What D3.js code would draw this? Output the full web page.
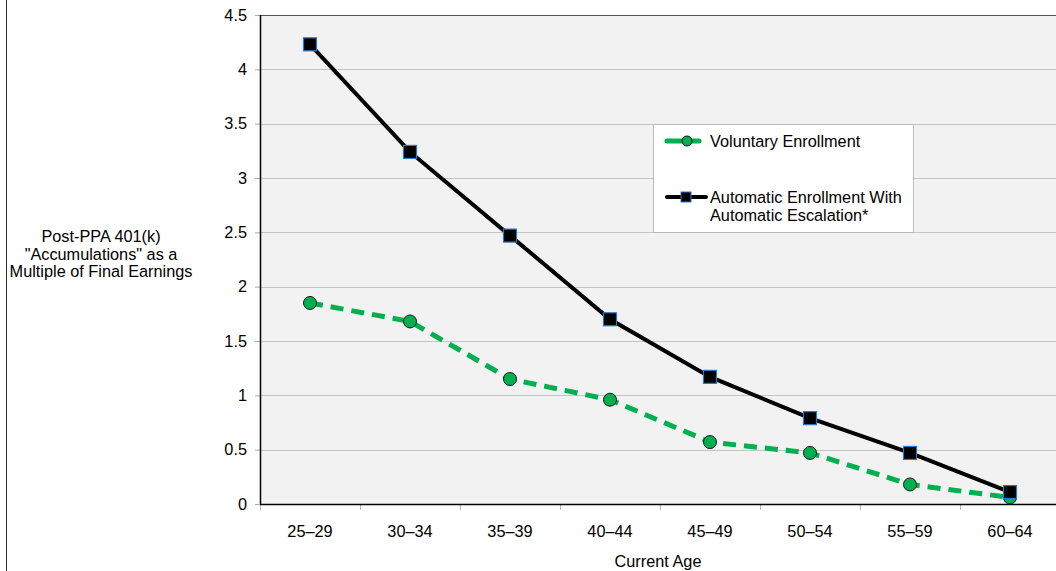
<!DOCTYPE html>
<html>
<head>
<meta charset="utf-8">
<script src="https://cdn.jsdelivr.net/npm/d3@7"></script>
<style>
  body { margin: 0; background: #fff; }
  svg text { font-family: "Liberation Sans", Arial, Helvetica, sans-serif; fill: #000; }
</style>
</head>
<body>
<svg id="chart" width="1056" height="571"></svg>
<script>
var ages = ["25–29", "30–34", "35–39", "40–44", "45–49", "50–54", "55–59", "60–64"];
var voluntary = [1.85, 1.68, 1.15, 0.96, 0.57, 0.47, 0.18, 0.06];
var automatic = [4.23, 3.24, 2.47, 1.70, 1.17, 0.79, 0.47, 0.11];
var yTicks = [0, 0.5, 1, 1.5, 2, 2.5, 3, 3.5, 4, 4.5];
var seriesNames = ["Voluntary Enrollment", "Automatic Enrollment With|Automatic Escalation*"];

var svg = d3.select("#chart");
var plotLeft = 260, plotRight = 1060, plotTop = 15, plotBottom = 504;
var fs = "16.3px";

var x = d3.scaleBand().domain(ages).range([plotLeft, plotRight]);
var y = d3.scaleLinear().domain([0, 4.5]).range([plotBottom, plotTop]);

// stray frame line at far left
svg.append("line")
	.attr("x1", 6.5).attr("x2", 6.5).attr("y1", 0).attr("y2", 571)
	.attr("stroke", "#333").attr("stroke-width", 1);

// plot background
svg.append("rect")
	.attr("x", plotLeft).attr("y", plotTop)
	.attr("width", plotRight - plotLeft).attr("height", plotBottom - plotTop)
	.attr("fill", "#f2f2f2");

// grid
svg.append("g").selectAll("line")
	.data(yTicks.filter(function(d){ return d > 0; }))
	.enter().append("line")
	.attr("x1", plotLeft).attr("x2", plotRight)
	.attr("y1", function(d){ return Math.round(y(d)) + 0.5; })
	.attr("y2", function(d){ return Math.round(y(d)) + 0.5; })
	.attr("stroke", function(d){ return d === 4.5 ? "#555" : "#c4c4c4"; })
	.attr("stroke-width", 1);

// y axis
var yAxis = d3.axisLeft(y).tickValues(yTicks).tickSize(5).tickPadding(8)
	.tickFormat(function(d){ return d; });
var gy = svg.append("g").attr("transform", "translate(" + plotLeft + ",0)").call(yAxis);
gy.select(".domain").remove();
gy.selectAll(".tick line").attr("stroke", "#aaa");
gy.selectAll(".tick text").style("font-size", fs);
svg.append("line")
	.attr("x1", plotLeft + 0.5).attr("x2", plotLeft + 0.5).attr("y1", plotTop).attr("y2", plotBottom)
	.attr("stroke", "#000").attr("stroke-width", 1.5);

// x axis
var xAxis = d3.axisBottom(x).tickSize(0).tickPadding(21);
var gx = svg.append("g").attr("transform", "translate(0," + plotBottom + ")").call(xAxis);
gx.select(".domain").remove();
gx.selectAll(".tick text").style("font-size", fs);
svg.append("g").selectAll("line")
	.data(ages)
	.enter().append("line")
	.attr("x1", function(d){ return x(d) + 0.5; })
	.attr("x2", function(d){ return x(d) + 0.5; })
	.attr("y1", plotBottom).attr("y2", plotBottom + 6)
	.attr("stroke", "#bbb");
svg.append("line")
	.attr("x1", plotLeft).attr("x2", plotRight).attr("y1", plotBottom + 0.5).attr("y2", plotBottom + 0.5)
	.attr("stroke", "#000").attr("stroke-width", 1.5);

// axis titles
svg.append("text")
	.attr("x", 658).attr("y", 567)
	.attr("text-anchor", "middle")
	.style("font-size", fs)
	.text("Current Age");

var yTitle = svg.append("text")
	.attr("text-anchor", "middle")
	.style("font-size", fs);
["Post-PPA 401(k)", "\"Accumulations\" as a", "Multiple of Final Earnings"].forEach(function(t, i){
	yTitle.append("tspan").attr("x", 101).attr("y", 242 + i * 17.5).text(t);
});

var cx = function(d, i){ return x(ages[i]) + x.bandwidth() / 2; };
var lineGen = d3.line().x(function(d, i){ return cx(d, i); }).y(function(d){ return y(d); });

var green = "#00b050";

// voluntary line
svg.append("path")
	.datum(voluntary)
	.attr("d", lineGen)
	.attr("fill", "none")
	.attr("stroke", green)
	.attr("stroke-width", 5)
	.attr("stroke-dasharray", "13,8");

// automatic line
svg.append("path")
	.datum(automatic)
	.attr("d", lineGen)
	.attr("fill", "none")
	.attr("stroke", "#000")
	.attr("stroke-width", 4);

svg.append("g").selectAll("circle")
	.data(voluntary)
	.enter().append("circle")
	.attr("cx", function(d, i){ return cx(d, i); })
	.attr("cy", function(d){ return y(d); })
	.attr("r", 6.5)
	.attr("fill", green)
	.attr("stroke", "#1a1a1a")
	.attr("stroke-width", 1);

var sq = 13;
svg.append("g").selectAll("rect")
	.data(automatic)
	.enter().append("rect")
	.attr("x", function(d, i){ return cx(d, i) - sq / 2; })
	.attr("y", function(d){ return y(d) - sq / 2; })
	.attr("width", sq).attr("height", sq)
	.attr("fill", "#000")
	.attr("stroke", "#2a78c8")
	.attr("stroke-width", 1.2);

// legend
var legend = svg.append("g");
legend.append("rect")
	.attr("x", 653.5).attr("y", 124.5).attr("width", 260).attr("height", 108)
	.attr("fill", "#fff").attr("stroke", "#bbb");

legend.append("line")
	.attr("x1", 667).attr("x2", 699).attr("y1", 141).attr("y2", 141)
	.attr("stroke", green).attr("stroke-width", 5).attr("stroke-linecap", "round");
legend.append("circle")
	.attr("cx", 687).attr("cy", 141).attr("r", 5)
	.attr("fill", green).attr("stroke", "#1a1a1a");
legend.append("text")
	.attr("x", 710).attr("y", 147)
	.style("font-size", fs)
	.text(seriesNames[0]);

legend.append("line")
	.attr("x1", 667).attr("x2", 706).attr("y1", 197).attr("y2", 197)
	.attr("stroke", "#000").attr("stroke-width", 4).attr("stroke-linecap", "round");
legend.append("rect")
	.attr("x", 681).attr("y", 192).attr("width", 10).attr("height", 10)
	.attr("fill", "#000").attr("stroke", "#2a78c8");
var lt = legend.append("text").style("font-size", fs);
seriesNames[1].split("|").forEach(function(t, i){
	lt.append("tspan").attr("x", 710).attr("y", 203 + i * 18).text(t);
});
</script>
</body>
</html>
